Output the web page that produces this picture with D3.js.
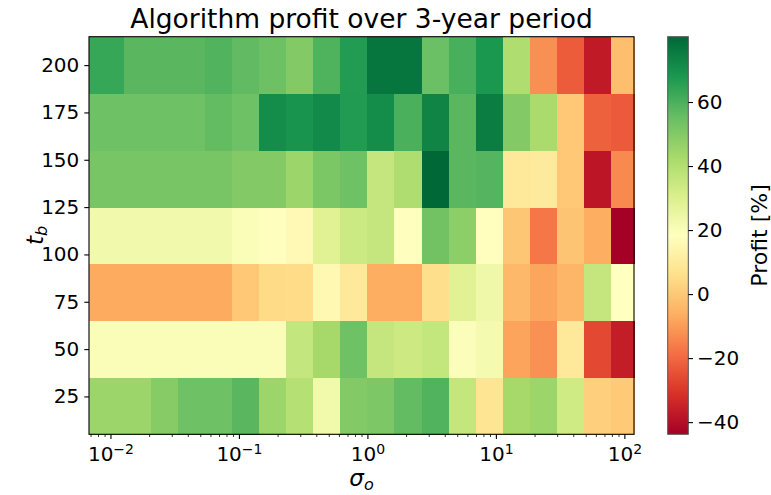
<!DOCTYPE html>
<html><head><meta charset="utf-8">
<script src="https://cdn.jsdelivr.net/npm/d3@7"></script>
<style>
body{margin:0;background:#fff}
svg{display:block}
text{font-family:"DejaVu Sans",sans-serif;fill:#000}
</style>
</head><body>
<svg id="c" width="771" height="495"></svg>
<script>
// ---- data ----
const sigma = [0.01, 0.016238, 0.026367, 0.042813, 0.069519, 0.112884, 0.183298, 0.297635,
  0.483293, 0.784760, 1.274275, 2.069138, 3.359818, 5.455595, 8.858668, 14.384499,
  23.357215, 37.926902, 61.584821, 100];
const tb = [20, 50, 80, 110, 140, 170, 200];
// profit[i] is the row for tb[i], one value per sigma
const profit = [
  [45, 45, 49.4, 54, 54, 57.5, 45, 39.4, 23, 50, 51, 56, 59, 36, 7.9, 43.2, 45, 33.2, 1.6, 0.4],
  [20, 20, 20, 20, 20, 20, 20, 35.8, 43.1, 54, 35.6, 34, 36, 19.5, 22, -8.5, -12.1, 9.5, -26.3, -36.3],
  [-7.2, -7.2, -7.2, -7.2, -7.2, 0, 4.6, 5, 15.5, 9.6, -6.5, -6.5, 6, 28.5, 23.5, -4.1, -8.3, -4.5, 35.6, 18.3],
  [22.9, 22.9, 22.9, 22.9, 22.9, 20, 18.5, 16, 28.5, 33.8, 35.6, 18.5, 53.2, 48.2, 18, -0.6, -17.1, -1, -6.5, -43.8],
  [52, 52, 52, 52, 52, 50, 50, 45, 51.5, 54, 35.6, 40.7, 80.4, 57.5, 58.5, 9.5, 10, 0, -38.4, -13.4],
  [54, 54, 54, 54, 56, 54, 71, 69, 71.7, 67, 71, 60, 73.2, 57.5, 75, 50, 42, -0.1, -21.4, -22.8],
  [63.4, 57.5, 57.5, 57.5, 58.8, 56.2, 54.2, 50, 59.3, 66.8, 77, 77, 54.5, 60.4, 68, 40.7, -12.3, -22.4, -37.1, -2.6]
];
const yTicks = [25, 50, 75, 100, 125, 150, 175, 200];
const xTickExps = [-2, -1, 0, 1, 2];
const cbTicks = [-40, -20, 0, 20, 40, 60];
const rdylgn = ["#a50026","#d73027","#f46d43","#fdae61","#fee08b","#ffffbf",
                "#d9ef8b","#a6d96a","#66bd63","#1a9850","#006837"];

// ---- layout ----
const L = 89, R = 634, T = 36.7, B = 434.3;
const svg = d3.select("#c");

const x = d3.scaleLog().domain([Math.pow(10, -2.167), Math.pow(10, 2.075)]).range([L, R]);
const dy = (tb[1] - tb[0]) / 2;
const y = d3.scaleLinear().domain([tb[0] - dy, tb[tb.length - 1] + dy]).range([B, T]);

const [vmin, vmax] = d3.extent(profit.flat());
const color = d3.scaleLinear()
  .domain(d3.range(11).map(i => vmin + (vmax - vmin) * i / 10))
  .range(rdylgn).interpolate(d3.interpolateRgb);

// column edges (geometric midpoints), outer edges at axis limits
const edges = [x.domain()[0]];
for (let i = 0; i < sigma.length - 1; i++) edges.push(Math.sqrt(sigma[i] * sigma[i + 1]));
edges.push(x.domain()[1]);

const cells = [];
profit.forEach((row, r) => row.forEach((v, c) => cells.push({r, c, v})));
svg.append("g").selectAll("rect").data(cells).join("rect")
  .attr("x", d => x(edges[d.c]))
  .attr("width", d => x(edges[d.c + 1]) - x(edges[d.c]) + 0.5)
  .attr("y", d => y(tb[d.r] + dy))
  .attr("height", d => y(tb[d.r] - dy) - y(tb[d.r] + dy) + 0.5)
  .attr("fill", d => color(d.v))
  .attr("shape-rendering", "crispEdges");

// ---- axes ----
const majorLen = 4.7, minorLen = 2.7;
const majors = xTickExps.map(e => Math.pow(10, e));
const minors = [];
for (let e = -3; e <= 2; e++) for (let m = 2; m <= 9; m++) {
  const v = m * Math.pow(10, e);
  if (v >= x.domain()[0] && v <= x.domain()[1]) minors.push(v);
}
svg.append("g").attr("transform", `translate(0,${B})`)
  .call(d3.axisBottom(x).tickValues(minors).tickFormat("").tickSize(minorLen).tickSizeOuter(0))
  .call(g => g.select(".domain").remove())
  .call(g => g.selectAll("line").attr("stroke-width", 0.8));

const gx = svg.append("g").attr("transform", `translate(0,${B})`)
  .call(d3.axisBottom(x).tickValues(majors).tickFormat("").tickSize(majorLen).tickSizeOuter(0));
gx.select(".domain").remove();
gx.selectAll("line").attr("stroke-width", 1.1);
gx.selectAll(".tick").each(function(d, i) {
  const t = d3.select(this).append("text")
    .attr("y", 27).attr("text-anchor", "middle")
    .style("font-size", "20px");
  t.append("tspan").text("10");
  const e = xTickExps[i];
  t.append("tspan").attr("dy", "-0.55em").style("font-size", "14px")
    .text(e < 0 ? "\u2212" + Math.abs(e) : String(e));
});

const gy = svg.append("g").attr("transform", `translate(${L},0)`)
  .call(d3.axisLeft(y).tickValues(yTicks).tickSize(majorLen).tickPadding(5).tickSizeOuter(0));
gy.select(".domain").remove();
gy.selectAll("line").attr("stroke-width", 1.1);
gy.selectAll("text").style("font-size", "20px").attr("font-family", "DejaVu Sans").attr("fill", "#000");

// spines
svg.append("rect").attr("x", L).attr("y", T).attr("width", R - L).attr("height", B - T)
  .attr("fill", "none").attr("stroke", "#000").attr("stroke-width", 1.1);

// ---- colorbar ----
const cbX = 667.7, cbW = 20.6;
const cb = d3.scaleLinear().domain([vmin, vmax]).range([B, T]);
const grad = svg.append("defs").append("linearGradient").attr("id", "cbg")
  .attr("x1", 0).attr("y1", 1).attr("x2", 0).attr("y2", 0);
rdylgn.forEach((c, i) => grad.append("stop").attr("offset", i / 10).attr("stop-color", c));
svg.append("rect").attr("x", cbX).attr("y", T).attr("width", cbW).attr("height", B - T)
  .attr("fill", "url(#cbg)").attr("stroke", "#555").attr("stroke-width", 1);
const gc = svg.append("g").attr("transform", `translate(${cbX + cbW},0)`)
  .call(d3.axisRight(cb).tickValues(cbTicks).tickSize(majorLen).tickPadding(4)
    .tickFormat(d => d < 0 ? "\u2212" + Math.abs(d) : String(d)).tickSizeOuter(0));
gc.select(".domain").remove();
gc.selectAll("line").attr("stroke-width", 1.1);
gc.selectAll("text").style("font-size", "20px").attr("font-family", "DejaVu Sans").attr("fill", "#000");

svg.append("text").attr("transform", `translate(767,${(T + B) / 2}) rotate(-90)`)
  .attr("text-anchor", "middle").style("font-size", "22px").text("Profit [%]");

// ---- titles ----
svg.append("text").attr("x", (L + R) / 2).attr("y", 28).attr("text-anchor", "middle")
  .style("font-size", "26.5px").text("Algorithm profit over 3-year period");

const xl = svg.append("text").attr("x", (L + R) / 2).attr("y", 486).attr("text-anchor", "middle")
  .style("font-size", "23px");
xl.append("tspan").style("font-style", "italic").text("\u03c3");
xl.append("tspan").attr("dy", "0.25em").style("font-size", "16px").style("font-style", "italic").text("o");

const yl = svg.append("text").attr("transform", `translate(43,${(T + B) / 2}) rotate(-90)`)
  .attr("text-anchor", "middle").style("font-size", "23px");
yl.append("tspan").style("font-style", "italic").text("t");
yl.append("tspan").attr("dy", "0.25em").style("font-size", "16px").style("font-style", "italic").text("b");
</script>
</body></html>
